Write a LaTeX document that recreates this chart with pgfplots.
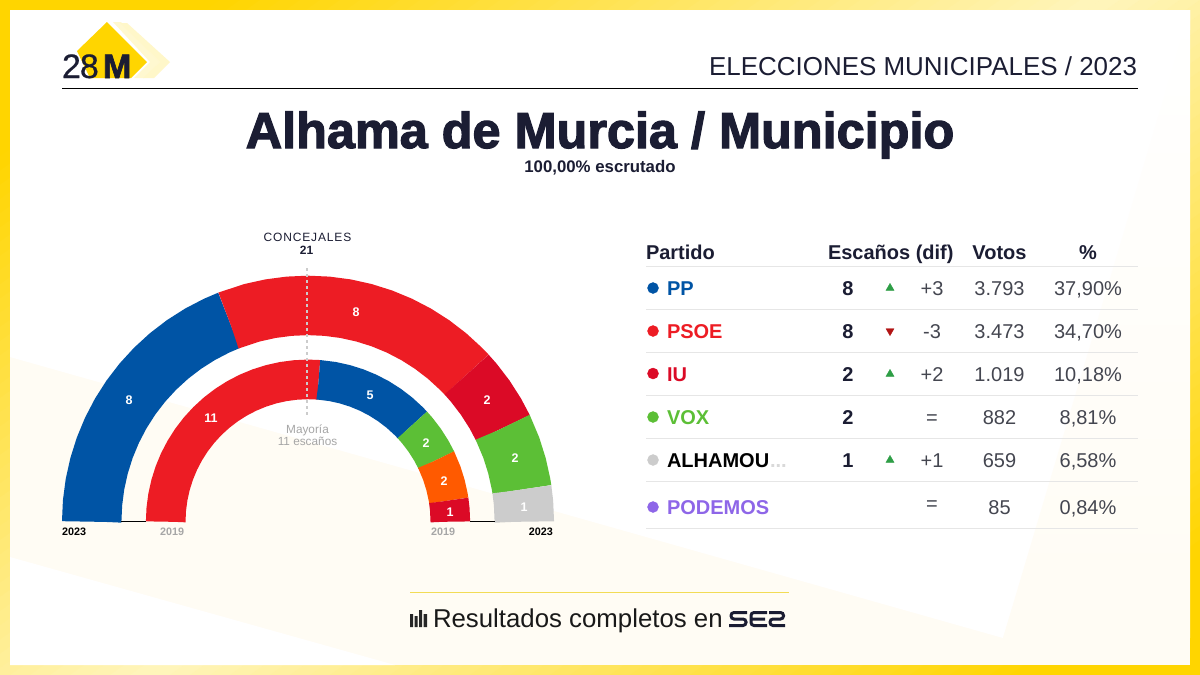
\documentclass[border=0pt]{standalone}
\usepackage{fontspec}
\usepackage{pgfplots}
\pgfplotsset{compat=1.18}
\setmainfont{Liberation Sans}
\newcommand\fs[1]{\fontsize{#1}{#1}\selectfont}
\definecolor{ink}{HTML}{1B1D33}
\definecolor{cream}{HTML}{FFFCF4}
\definecolor{bord}{HTML}{FFD500}
\definecolor{pale}{HTML}{FFF5BC}
\definecolor{cPP}{HTML}{0054A5}
\definecolor{cPSOE}{HTML}{ED1C24}
\definecolor{cIU}{HTML}{DB0A26}
\definecolor{cVOX}{HTML}{5CBF36}
\definecolor{cALH}{HTML}{CCCCCC}
\definecolor{cPOD}{HTML}{8E66E8}
\definecolor{cOTR}{HTML}{FF5A00}
\definecolor{txt}{HTML}{444650}
\definecolor{rowl}{HTML}{E6E6E6}
\definecolor{mid}{HTML}{A6A6A6}
\definecolor{tup}{HTML}{2E9E46}
\definecolor{tdn}{HTML}{B21414}
\definecolor{foot}{HTML}{F2DC55}
\pgfplotsset{
  page/.style={at={(0pt,-675pt)},anchor=south west,width=1200pt,height=675pt,scale only axis,hide axis,clip=false},
  outer/.style={data cs=polar,no markers,line width=59.4pt,line cap=butt,forget plot},
  inner/.style={data cs=polar,no markers,line width=39.6pt,line cap=butt,forget plot}
}
\begin{document}
\begin{tikzpicture}[x=1pt,y=-1pt,every node/.style={inner sep=0pt,outer sep=0pt}]
% background
\fill[bord] (0,0) rectangle (1200,675);
\begin{scope}
\clip (0,0) rectangle (1200,675);
\foreach \i in {0,...,107}{
  \pgfmathsetmacro\uu{\i*20}
  \pgfmathsetmacro\m{min(100,abs(\uu+10-1100)/8.8)}
  \fill[bord!\m!pale] (\uu,0)--(\uu+21,0)--(\uu+21-950,675)--(\uu-950,675)--cycle;
}
\end{scope}
\fill[cream] (10,10) rectangle (1190,665);
\fill[white] (10,10)--(1190,10)--(1190,30)--(1003,638)--(10,357)--cycle;
\fill[white] (10,557)--(10,665)--(395,665)--cycle;
\shade[top color=white,bottom color=cream] (1190,10)--(1003,638)--(1190,638)--cycle;
% logo
\fill[pale!70!white] (113,22)--(121,22)--(160,62)--(144,78)--(134,78)--(150,62)--cycle;
\fill[pale!80!white] (127,23)--(170,62)--(154,78)--(143,78)--(160,62)--(120,23)--cycle;
\fill[bord] (107,22)--(147,62)--(131,78)--(90,78)--(77,51)--cycle;
\node[anchor=base west,text=ink] at (62,78) {\fs{34}\addfontfeature{LetterSpace=-3,FakeBold=0.5}28};
\node[anchor=base west,text=ink] at (103,78) {\fs{34}\bfseries\addfontfeature{FakeBold=2}M};
% header
\node[anchor=base east,text=ink] at (1137,75) {\fs{25.95}ELECCIONES MUNICIPALES / 2023};
\draw[black,line width=1pt] (62,88.5)--(1138,88.5);
\node[anchor=base,text=ink] at (600,148) {\fs{50.4}\bfseries\addfontfeature{FakeBold=2.4}Alhama de Murcia / Municipio};
\node[anchor=base,text=ink] at (600,172) {\fs{16.8}\bfseries 100,00\% escrutado};
% rings
\begin{axis}[page,xmin=-308,xmax=892,ymin=-153.3,ymax=521.7]
\addplot[outer,cPP] coordinates {(180,216.3)(179.9,216.3)(175,216.3)(170,216.3)(165,216.3)(160,216.3)(155,216.3)(150,216.3)(145,216.3)(140,216.3)(135,216.3)(130,216.3)(125,216.3)(120,216.3)(115,216.3)(111.5,216.3)(111.43,216.3)};
\addplot[outer,cPSOE] coordinates {(111.43,216.3)(111.35,216.3)(105,216.3)(100,216.3)(95,216.3)(90,216.3)(85,216.3)(80,216.3)(75,216.3)(70,216.3)(65,216.3)(60,216.3)(55,216.3)(50,216.3)(45,216.3)(42.95,216.3)(42.86,216.3)};
\addplot[outer,cIU] coordinates {(42.86,216.3)(42.78,216.3)(40,216.3)(35,216.3)(30,216.3)(25.8,216.3)(25.71,216.3)};
\addplot[outer,cVOX] coordinates {(25.71,216.3)(25.63,216.3)(20,216.3)(15,216.3)(10,216.3)(8.65,216.3)(8.57,216.3)};
\addplot[outer,cALH] coordinates {(8.57,216.3)(8.49,216.3)(5,216.3)(0.08,216.3)(0,216.3)};
\addplot[inner,cPSOE] coordinates {(180,142.3)(179.9,142.3)(175,142.3)(170,142.3)(165,142.3)(160,142.3)(155,142.3)(150,142.3)(145,142.3)(140,142.3)(135,142.3)(130,142.3)(125,142.3)(120,142.3)(115,142.3)(110,142.3)(105,142.3)(100,142.3)(95,142.3)(90,142.3)(85.8,142.3)(85.71,142.3)};
\addplot[inner,cPP] coordinates {(85.71,142.3)(85.63,142.3)(80,142.3)(75,142.3)(70,142.3)(65,142.3)(60,142.3)(55,142.3)(50,142.3)(45,142.3)(42.95,142.3)(42.86,142.3)};
\addplot[inner,cVOX] coordinates {(42.86,142.3)(42.78,142.3)(40,142.3)(35,142.3)(30,142.3)(25.8,142.3)(25.71,142.3)};
\addplot[inner,cOTR] coordinates {(25.71,142.3)(25.63,142.3)(20,142.3)(15,142.3)(10,142.3)(8.65,142.3)(8.57,142.3)};
\addplot[inner,cIU] coordinates {(8.57,142.3)(8.49,142.3)(5,142.3)(0.08,142.3)(0,142.3)};
\end{axis}
% table marks
\begin{axis}[page,xmin=0,xmax=1200,ymin=0,ymax=675,y dir=reverse]
\addplot[only marks,mark=*,mark size=5.5pt,cPP,forget plot] coordinates {(653,288)};
\addplot[only marks,mark=*,mark size=5.5pt,cPSOE,forget plot] coordinates {(653,331)};
\addplot[only marks,mark=*,mark size=5.5pt,cIU,forget plot] coordinates {(653,373.5)};
\addplot[only marks,mark=*,mark size=5.5pt,cVOX,forget plot] coordinates {(653,417)};
\addplot[only marks,mark=*,mark size=5.5pt,cALH,forget plot] coordinates {(653,460)};
\addplot[only marks,mark=*,mark size=5.5pt,cPOD,forget plot] coordinates {(653,507)};
\addplot[only marks,mark=triangle*,mark size=4.6pt,tup,forget plot] coordinates {(890,288)(890,374)(890,460)};
\addplot[only marks,mark=triangle*,mark size=4.6pt,mark options={rotate=180},tdn,forget plot] coordinates {(890,331)};
\end{axis}
% base lines & majority
\draw[black,line width=0.9pt] (121,521.5)--(146,521.5) (470,521.5)--(495,521.5);
\draw[cALH,line width=1.3pt,dash pattern=on 3pt off 3pt] (307,268)--(307,417);
% ring labels
\foreach \x/\y/\t in {129/400/8,356/312/8,487/400/2,515/458/2,524/507/1,211/418/11,370/395/5,426/443/2,444/481/2,450/512/1}
  \node[text=white] at (\x,\y) {\fs{12.5}\bfseries \t};
\node[anchor=base,text=ink] at (307.5,241) {\fs{12}\addfontfeature{LetterSpace=7}CONCEJALES};
\node[anchor=base,text=ink] at (306.5,254) {\fs{12}\bfseries 21};
\node[anchor=base,text=mid] at (307.5,433) {\fs{11.8}Mayoría};
\node[anchor=base,text=mid] at (307.5,445) {\fs{11.8}11 escaños};
\node[anchor=base west,text=black] at (62,535) {\fs{10.8}\bfseries 2023};
\node[anchor=base west,text=mid] at (160,535) {\fs{10.8}\bfseries 2019};
\node[anchor=base west,text=mid] at (431,535) {\fs{10.8}\bfseries 2019};
\node[anchor=base east,text=black] at (553,535) {\fs{10.8}\bfseries 2023};
% table
\foreach \y in {266.5,309.5,352.5,395.5,438.5,481.5,528.5} \draw[rowl,line width=1pt] (646,\y)--(1138,\y);
\node[anchor=base west,text=ink] at (646,259) {\fs{20}\bfseries Partido};
\node[anchor=base west,text=ink] at (828,259) {\fs{20}\bfseries Escaños (dif)};
\node[anchor=base,text=ink] at (999.5,259) {\fs{20}\bfseries Votos};
\node[anchor=base,text=ink] at (1088,259) {\fs{20}\bfseries \%};
\foreach \y/\c/\n in {295/cPP/PP,338/cPSOE/PSOE,381/cIU/IU,424/cVOX/VOX,467/black/ALHAMOU,514/cPOD/PODEMOS}
  \node[anchor=base west,text=\c] at (667,\y) {\fs{20}\bfseries \n};
\node[anchor=base west,text=black!15] at (770,467) {\fs{20}\bfseries ...};
\foreach \y/\n in {295/8,338/8,381/2,424/2,467/1}
  \node[anchor=base,text=ink] at (848,\y) {\fs{20}\bfseries \n};
\foreach \y/\n in {295/+3,338/-3,381/+2,424/=,467/+1,510/=}
  \node[anchor=base,text=txt] at (932,\y) {\fs{20}\n};
\foreach \y/\n in {295/3.793,338/3.473,381/1.019,424/882,467/659,514/85}
  \node[anchor=base,text=txt] at (999.5,\y) {\fs{20}\n};
\node[anchor=base,text=txt] at (1088,295) {\fs{20}37,90\%};
\node[anchor=base,text=txt] at (1088,338) {\fs{20}34,70\%};
\node[anchor=base,text=txt] at (1088,381) {\fs{20}10,18\%};
\node[anchor=base,text=txt] at (1088,424) {\fs{20}8,81\%};
\node[anchor=base,text=txt] at (1088,467) {\fs{20}6,58\%};
\node[anchor=base,text=txt] at (1088,514) {\fs{20}0,84\%};
% footer
\draw[foot,line width=1pt] (410,592.5)--(789,592.5);
\fill[black!85] (410,614) rectangle (413,627) (414.5,616) rectangle (417.5,627) (419,610) rectangle (422,627) (423.5,614) rectangle (427,627);
\node[anchor=base west,text=black!90] at (433,627) {\fs{25.8}Resultados completos en};
\begin{scope}[draw=ink,line width=3pt,line cap=butt,rounded corners=3pt]
\draw (747,612.5)--(731,612.5)--(731,619)--(746,619)--(746,625.5)--(729,625.5);
\draw (767,612.5)--(751,612.5)--(751,625.5)--(767,625.5) (751,619)--(765,619);
\draw (769,612.5)--(783.5,612.5)--(783.5,619)--(770,619)--(770,625.5)--(785,625.5);
\end{scope}
\end{tikzpicture}
\end{document}
